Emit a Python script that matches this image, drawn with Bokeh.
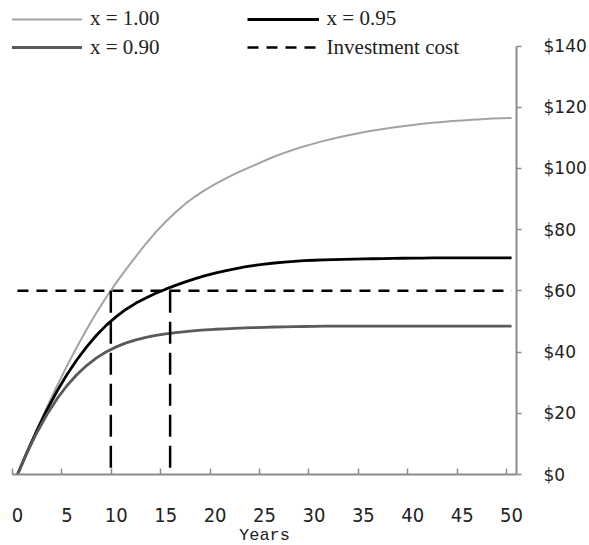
from bokeh.plotting import figure
from bokeh.models import Range1d, FixedTicker, NumeralTickFormatter, Legend, LegendItem
from bokeh.embed import file_html
from bokeh.resources import INLINE

# ---- data ----
years = list(range(51))
value_x100 = [0, 7.6, 15.0, 22.1, 28.9, 35.4, 41.6, 47.4, 52.9, 58.0,
              62.7, 67.1, 71.3, 75.4, 79.2, 82.6, 85.7, 88.5, 90.9, 93.0,
              94.9, 96.6, 98.2, 99.7, 101.1, 102.5, 103.9, 105.1, 106.2, 107.2,
              108.1, 109.0, 109.8, 110.5, 111.2, 111.8, 112.4, 112.9, 113.4, 113.8,
              114.2, 114.6, 114.9, 115.2, 115.5, 115.7, 115.9, 116.1, 116.3, 116.4,
              116.5]
value_x095 = [0, 7.5, 14.6, 21.2, 27.2, 32.6, 37.4, 41.7, 45.5, 48.8,
              51.6, 54.0, 56.0, 57.7, 59.2, 60.55, 61.8, 62.95, 64.0, 64.95,
              65.8, 66.55, 67.2, 67.8, 68.3, 68.75, 69.1, 69.4, 69.65, 69.85,
              70.0, 70.1, 70.2, 70.3, 70.4, 70.45, 70.5, 70.55, 70.6, 70.65,
              70.7, 70.7, 70.75, 70.75, 70.8, 70.8, 70.8, 70.8, 70.8, 70.8,
              70.8]
value_x090 = [0, 7.3, 13.9, 19.7, 24.7, 29.0, 32.6, 35.6, 38.1, 40.1,
              41.7, 43.0, 44.0, 44.8, 45.45, 45.95, 46.35, 46.7, 47.0, 47.25,
              47.45, 47.6, 47.75, 47.9, 48.0, 48.1, 48.2, 48.25, 48.3, 48.35,
              48.4, 48.45, 48.5, 48.5, 48.5, 48.5, 48.5, 48.5, 48.5, 48.5,
              48.5, 48.5, 48.5, 48.5, 48.5, 48.5, 48.5, 48.5, 48.5, 48.5,
              48.5]
investment_cost = 60
payback_years = [9.45, 15.45]
x_tick_values = list(range(0, 51, 5))
y_tick_values = list(range(0, 141, 20))
series_labels = ["x = 1.00", "x = 0.95", "x = 0.90", "Investment cost"]

AXIS_GRAY = "#8c8c8c"
TEXT = "#222222"

p = figure(frame_width=504, frame_height=474,
           x_range=Range1d(-0.5, 50.5), y_range=Range1d(0, 154.87),
           y_axis_location="right", output_backend="svg", toolbar_location=None,
           min_border_left=12, min_border_right=0, min_border_top=0, min_border_bottom=0,
           outline_line_color=None)
p.grid.visible = False

r1 = p.line(years, value_x100, line_color="#a3a3a3", line_width=2)
r2 = p.line(years, value_x095, line_color="#000000", line_width=2.8)
r3 = p.line(years, value_x090, line_color="#5a5a5a", line_width=2.8)
r4 = p.line([years[0], years[-1]], [investment_cost, investment_cost],
            line_color="#000000", line_width=2.5, line_dash="11 8")
p.segment(x0=payback_years, y0=[investment_cost] * len(payback_years),
          x1=payback_years, y1=[0] * len(payback_years),
          line_color="#000000", line_width=2.5, line_dash="22 9")

xa = p.xaxis[0]
xa.ticker = FixedTicker(ticks=x_tick_values, minor_ticks=[t - 0.5 for t in x_tick_values])
xa.major_tick_in = 0
xa.major_tick_out = 0
xa.minor_tick_in = 6
xa.minor_tick_out = 0
xa.minor_tick_line_color = AXIS_GRAY
xa.minor_tick_line_width = 1.5
xa.axis_line_color = AXIS_GRAY
xa.axis_line_width = 2
xa.major_label_text_font = "DejaVu Sans Condensed"
xa.major_label_text_font_size = "20px"
xa.major_label_text_color = TEXT
xa.major_label_standoff = 33
xa.axis_label = "Years"
xa.axis_label_text_font = "Liberation Mono"
xa.axis_label_text_font_size = "17px"
xa.axis_label_text_font_style = "normal"
xa.axis_label_text_color = TEXT
xa.axis_label_standoff = 1

ya = p.yaxis[0]
ya.ticker = FixedTicker(ticks=y_tick_values, minor_ticks=[])
ya.bounds = (0, 140)
ya.formatter = NumeralTickFormatter(format="$0")
ya.major_tick_in = 0
ya.major_tick_out = 5
ya.minor_tick_in = 0
ya.minor_tick_out = 0
ya.major_tick_line_color = AXIS_GRAY
ya.major_tick_line_width = 1.5
ya.axis_line_color = AXIS_GRAY
ya.axis_line_width = 2
ya.major_label_text_font = "DejaVu Sans"
ya.major_label_text_font_size = "17px"
ya.major_label_text_color = TEXT
ya.major_label_standoff = 22

def make_legend(items, loc):
    leg = Legend(items=items, orientation="horizontal", location=loc,
                 glyph_width=72, glyph_height=20, label_standoff=8, spacing=87,
                 padding=0, margin=0, border_line_color=None,
                 background_fill_alpha=0,
                 label_text_font="Liberation Serif", label_text_font_size="21px",
                 label_text_color=TEXT)
    return leg

leg1 = make_legend([LegendItem(label=series_labels[0], renderers=[r1]),
                    LegendItem(label=series_labels[1], renderers=[r2])], (-2, 443))
leg2 = make_legend([LegendItem(label=series_labels[2], renderers=[r3]),
                    LegendItem(label=series_labels[3], renderers=[r4])], (-2, 414.5))
p.add_layout(leg1)
p.add_layout(leg2)

open("out.html", "w").write(file_html(p, INLINE))
